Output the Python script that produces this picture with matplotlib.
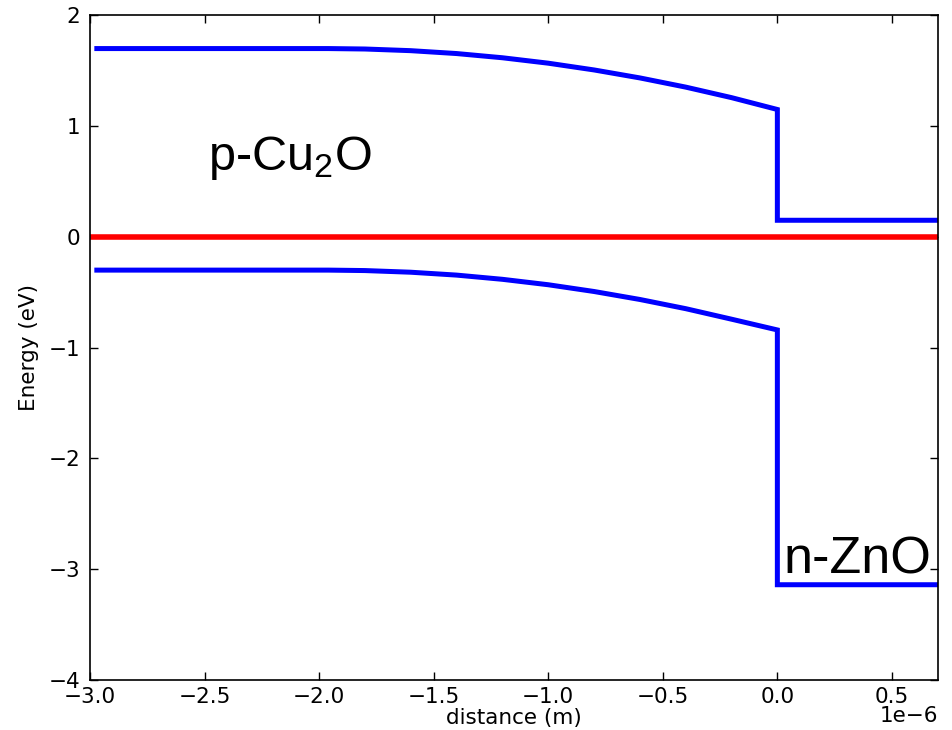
import matplotlib
matplotlib.use("Agg")
import matplotlib.pyplot as plt
from matplotlib.ticker import FuncFormatter

# Distances in micrometres (scaled by 1e-6 at plot time)
x_cb = [-2.97, -1.96, -1.8, -1.6, -1.4, -1.2, -1.0, -0.8, -0.6, -0.4, -0.2, 0.0, 0.0, 0.7]
e_cb = [1.70, 1.70, 1.696, 1.681, 1.655, 1.617, 1.568, 1.507, 1.435, 1.352, 1.257, 1.15, 0.15, 0.15]
x_vb = [-2.97, -1.96, -1.8, -1.6, -1.4, -1.2, -1.0, -0.8, -0.6, -0.4, -0.2, 0.0, 0.0, 0.7]
e_vb = [-0.30, -0.30, -0.304, -0.319, -0.345, -0.383, -0.432, -0.493, -0.565, -0.648, -0.743, -0.84, -3.14, -3.14]
x_ef = [-3.0, 0.7]
e_ef = [0.0, 0.0]

x_ticks = [-3.0, -2.5, -2.0, -1.5, -1.0, -0.5, 0.0, 0.5]
y_ticks = [-4, -3, -2, -1, 0, 1, 2]

label_p = "p-Cu$_2$O"
label_n = "n-ZnO"

plt.rcParams['font.family'] = ['DejaVu Sans']
plt.rcParams['mathtext.fontset'] = 'custom'
plt.rcParams['mathtext.rm'] = 'Liberation Sans'
plt.rcParams['mathtext.it'] = 'Liberation Sans'
plt.rcParams['mathtext.default'] = 'rm'

fig = plt.figure(figsize=(9.53, 7.30), dpi=100)
ax = fig.add_axes([0.0944, 0.0685, 0.8896, 0.9105])

ax.plot([v * 1e-6 for v in x_cb], e_cb, color='#0000ff', lw=3.6, solid_joinstyle='miter')
ax.plot([v * 1e-6 for v in x_vb], e_vb, color='#0000ff', lw=3.6, solid_joinstyle='miter')
ax.plot([v * 1e-6 for v in x_ef], e_ef, color='#ff0000', lw=4)

ax.set_xlim(-3e-6, 0.7e-6)
ax.set_ylim(-4, 2)
ax.set_xticks([v * 1e-6 for v in x_ticks])
ax.xaxis.set_major_formatter(FuncFormatter(lambda v, p: f"{v / 1e-6:.1f}".replace('-', '\u2212')))
ax.set_yticks(y_ticks)
ax.yaxis.set_major_formatter(FuncFormatter(lambda v, p: f"{v:.0f}".replace('-', '\u2212')))
ax.tick_params(direction='in', top=True, right=True, length=6, width=1, labelsize=15.5)
ax.tick_params(axis='x', pad=5)
ax.tick_params(axis='y', pad=7)
for s in ax.spines.values():
    s.set_linewidth(1.2)

ax.set_xlabel("distance (m)", fontsize=15.5, labelpad=1)
ax.set_ylabel("Energy (eV)", fontsize=15.5, labelpad=7)

fig.text(938 / 953, 1 - 716 / 730, "1e\u22126", fontsize=15.5, ha='right', va='center')

ax.text(-2.485e-6, 0.60, label_p, fontsize=35, family='Liberation Sans')
ax.text(0.025e-6, -3.035, label_n, fontsize=37.5, family='Liberation Sans')

fig.savefig("out.png", dpi=100)
